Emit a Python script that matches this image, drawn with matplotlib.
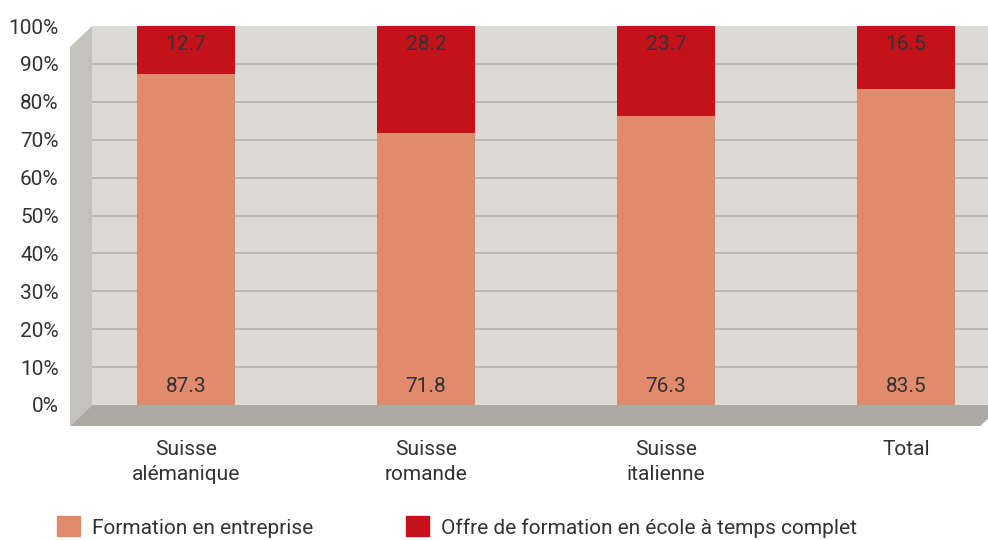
import matplotlib
matplotlib.use("Agg")
import matplotlib.pyplot as plt
from matplotlib.patches import Polygon, Patch

# data
regions = ["Suisse\nalémanique", "Suisse\nromande", "Suisse\nitalienne", "Total"]
entreprise = [87.3, 71.8, 76.3, 83.5]
ecole = [12.7, 28.2, 23.7, 16.5]
series_names = ["Formation en entreprise",
                "Offre de formation en école à temps complet"]

c_light = "#e08a6e"
c_dark = "#c4121b"
wall = "#dbd9d3"
side = "#c3c2bb"
floor = "#abaaa4"
grid = "#b9b7b0"
txt = "#333333"
fs = 15

plt.rcParams['font.family'] = ['Roboto', 'DejaVu Sans']

W, H = 988, 540
fig = plt.figure(figsize=(W/100, H/100), dpi=100)
ax = fig.add_axes([92/W, (H-405)/H, (988-92)/W, (405-26)/H])
ax.set_facecolor(wall)

x = list(range(len(regions)))
x0, x1 = -0.392, 3.342
ax.set_xlim(x0, x1)
ax.set_ylim(0, 100)

# 3d-ish side wall and floor
dx, dy = 0.0917, 5.54
ax.add_patch(Polygon([(x0, 0), (x0, 100), (x0-dx, 100-dy), (x0-dx, -dy)],
                     closed=True, fc=side, ec='none', clip_on=False, zorder=0))
ax.add_patch(Polygon([(x0-dx, -dy), (x0, 0), (x1+0.06, 0), (x1+0.06-dx, -dy)],
                     closed=True, fc=floor, ec='none', clip_on=False, zorder=0))

ticks = list(range(0, 101, 10))
ax.set_yticks(ticks)
ax.set_yticklabels([f"{v}%" for v in ticks])
for t in ticks[1:-1]:
    ax.axhline(t, color=grid, lw=1.4, zorder=1)

b1 = ax.bar(x, entreprise, width=0.41, color=c_light, zorder=2)
b2 = ax.bar(x, ecole, width=0.41, bottom=entreprise, color=c_dark, zorder=2)

for i in x:
    ax.text(i, 5, f"{entreprise[i]:.1f}", ha='center', va='center', fontsize=fs, color=txt, zorder=3)
    ax.text(i, 95, f"{ecole[i]:.1f}", ha='center', va='center', fontsize=fs, color=txt, zorder=3)

ax.set_xticks(x)
ax.set_xticklabels(regions, linespacing=1.45)
ax.tick_params(axis='x', length=0, pad=25, labelsize=fs, labelcolor=txt)
ax.tick_params(axis='y', length=0, pad=24, labelsize=fs, labelcolor=txt)
for s in ax.spines.values():
    s.set_visible(False)

handles = [Patch(color=c_light), Patch(color=c_dark)]
fig.legend(handles, series_names, loc='center left', bbox_to_anchor=(57/W, (H-527)/H),
           ncol=2, frameon=False, fontsize=fs, handlelength=1.1, handleheight=1.1,
           handletextpad=0.58, columnspacing=4.45, borderpad=0, borderaxespad=0,
           labelcolor=txt)

fig.savefig("out.png", dpi=100)
